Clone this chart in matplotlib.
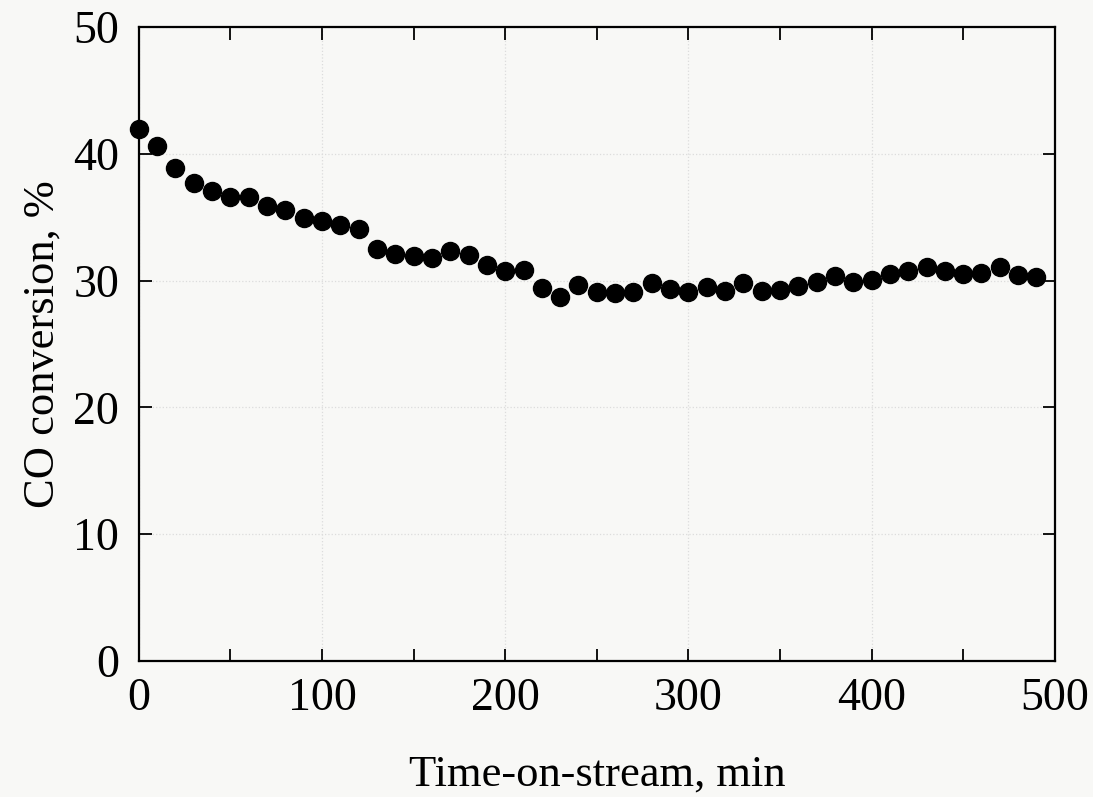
import matplotlib
matplotlib.use("Agg")
import matplotlib.pyplot as plt
from matplotlib.ticker import MultipleLocator

time_min = [0, 10, 20, 30, 40, 50, 60, 70, 80, 90, 100, 110, 120, 130, 140, 150,
            160, 170, 180, 190, 200, 210, 220, 230, 240, 250, 260, 270, 280, 290,
            300, 310, 320, 330, 340, 350, 360, 370, 380, 390, 400, 410, 420, 430,
            440, 450, 460, 470, 480, 490]
co_conversion = [41.96, 40.58, 38.89, 37.66, 37.10, 36.61, 36.60, 35.88, 35.60, 34.96,
                 34.66, 34.40, 34.05, 32.51, 32.13, 31.96, 31.74, 32.30, 32.03, 31.20,
                 30.79, 30.85, 29.38, 28.70, 29.61, 29.07, 29.01, 29.12, 29.77, 29.37,
                 29.08, 29.46, 29.14, 29.83, 29.17, 29.29, 29.59, 29.87, 30.38, 29.90,
                 30.06, 30.52, 30.78, 31.08, 30.76, 30.49, 30.59, 31.03, 30.43, 30.30]
x_ticks = [0, 100, 200, 300, 400, 500]
y_ticks = [0, 10, 20, 30, 40, 50]

plt.rcParams['font.family'] = ['Liberation Serif', 'DejaVu Serif']

fig = plt.figure(figsize=(10.93, 7.97), dpi=100)
fig.patch.set_facecolor('#f8f8f6')
ax = fig.add_axes([0.127, 0.171, 0.838, 0.795])
ax.set_facecolor('#f8f8f6')

ax.plot(time_min, co_conversion, 'o', color='black', markersize=13, clip_on=False, zorder=3)

ax.set_xlim(0, 500)
ax.set_ylim(0, 50)
ax.set_xticks(x_ticks)
ax.set_yticks(y_ticks)
ax.xaxis.set_minor_locator(MultipleLocator(50))
ax.tick_params(axis='both', which='both', direction='in', top=True, right=True,
               width=1.3, labelsize=33)
ax.tick_params(axis='both', which='major', length=9)
ax.tick_params(axis='x', which='minor', length=9)
ax.tick_params(axis='x', which='major', pad=12)
ax.tick_params(axis='y', which='major', pad=14)
for s in ax.spines.values():
    s.set_linewidth(1.6)

ax.grid(True, which='major', linestyle=':', color='#dcdcdc', linewidth=0.9)

ax.set_xlabel('Time-on-stream, min', fontsize=32, labelpad=25)
ax.set_ylabel('CO conversion, %', fontsize=32, labelpad=8)

fig.savefig('out.png', dpi=100, facecolor=fig.get_facecolor())
